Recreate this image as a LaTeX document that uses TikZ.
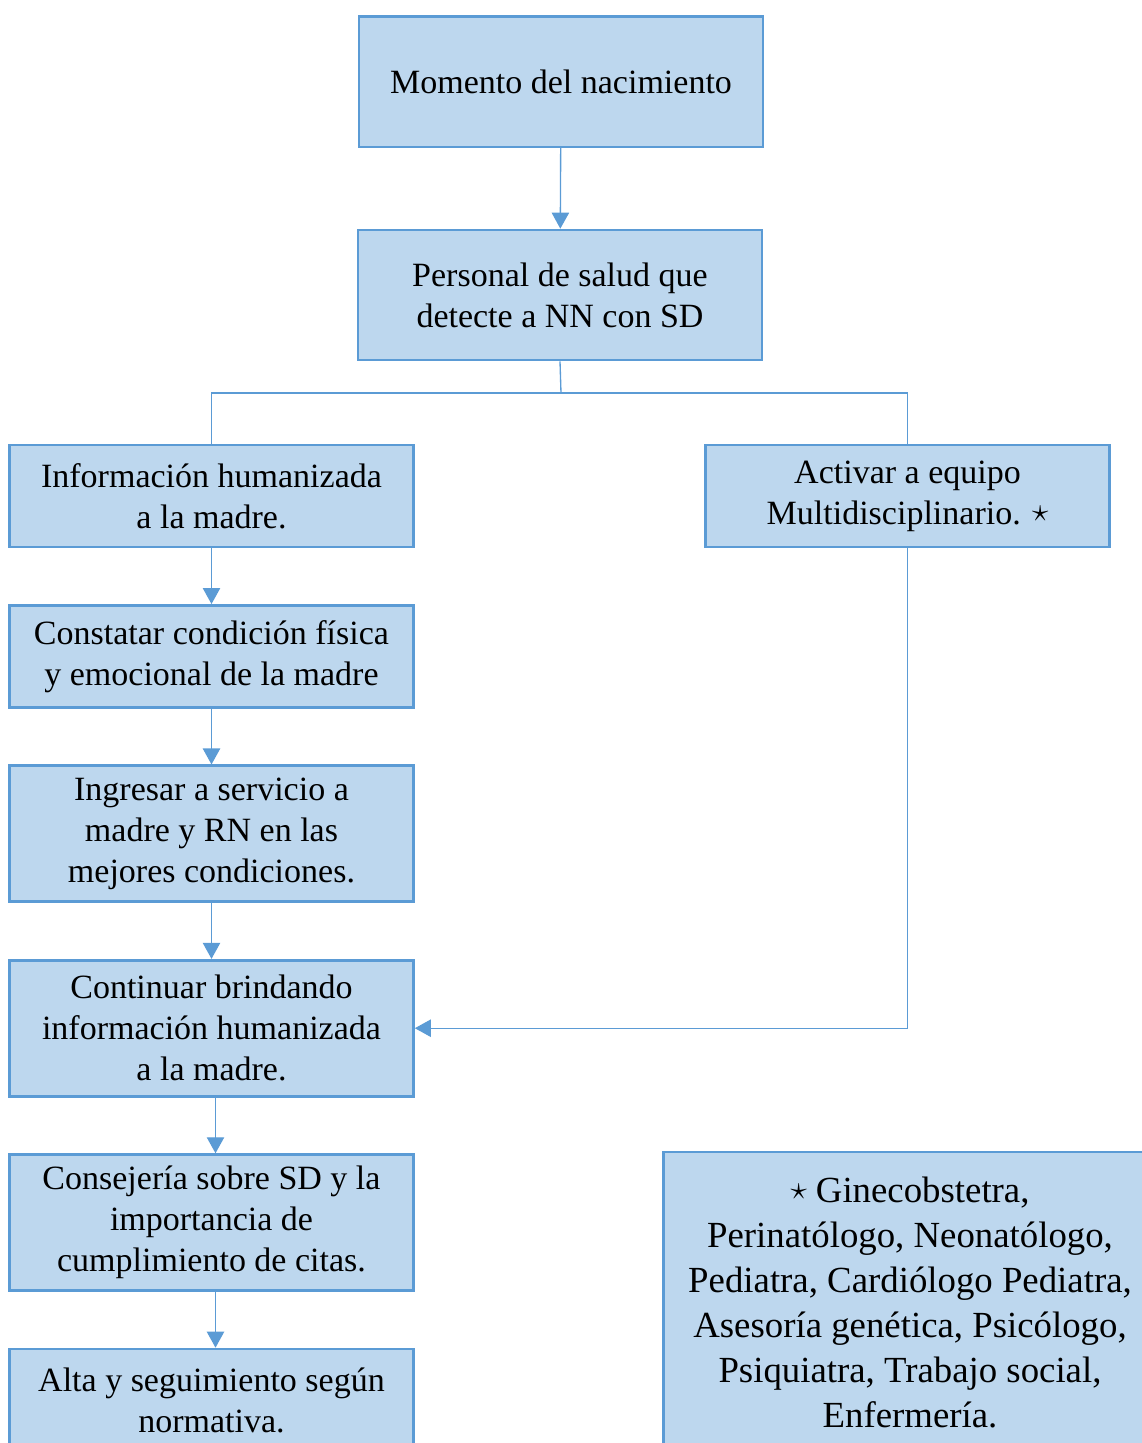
\documentclass[tikz,border=0pt]{standalone}
\usepackage{fontspec}
\setmainfont{Liberation Serif}
\usetikzlibrary{positioning}
\usetikzlibrary{arrows.meta}
\definecolor{boxfill}{RGB}{189, 215, 238}
\definecolor{boxline}{RGB}{91, 155, 213}
\tikzstyle{block} = [draw=boxline, line width=2pt, fill=boxfill, align=center, inner sep=0pt, minimum width=303pt, font=\fontsize{25.5}{30.75}\selectfont]
\tikzstyle{legend} = [draw=boxline, line width=2pt, fill=boxfill, align=center, inner sep=0pt, minimum width=370pt, minimum height=225pt, font=\fontsize{27.6}{33.75}\selectfont]
\tikzstyle{flow} = [-{Triangle[length=12pt, width=13pt]}, line width=1pt, boxline]
\tikzstyle{link} = [line width=1pt, boxline]

\begin{document}
\begin{tikzpicture}[x=0.75pt, y=-0.75pt, node distance=41.8pt]
		\useasboundingbox (0,0) rectangle (1142,1443);
		\clip (0,0) rectangle (1142,1443);
		
		%
		% Top
		\node [block, minimum height=98pt] at (561,81.5) (nacimiento) {Momento del nacimiento};
		\node [block, minimum height=97.5pt] at (560,295) (personal) {Personal de salud que\\detecte a NN con SD};
		\coordinate (split) at (561,393);
		
		\draw [flow] (nacimiento) -- (personal);
		\draw [link] (personal.south) -- (split);
		
		%
		% Left column
		\node [block, minimum height=76.5pt] at (211.5,496) (info) {Información humanizada\\a la madre.};
		\node [block, minimum height=76.5pt, below=of info] (constatar) {Constatar condición física\\y emocional de la madre};
		\node [block, minimum height=102pt, below=of constatar] (ingresar) {Ingresar a servicio a\\madre y RN en las\\mejores condiciones.};
		\node [block, minimum height=102pt, below=of ingresar] (continuar) {Continuar brindando\\información humanizada\\a la madre.};
		\node [block, minimum height=102pt, below=of continuar] (consejeria) {Consejería sobre SD y la\\importancia de\\cumplimiento de citas.};
		\node [block, minimum height=76.5pt, below=of consejeria] (alta) {Alta y seguimiento según\\normativa.};
		
		\draw [link] (info.north) |- (split);
		\draw [flow] (info) -- (constatar);
		\draw [flow] (constatar) -- (ingresar);
		\draw [flow] (ingresar) -- (continuar);
		\draw [flow] ([xshift=3pt]continuar.south) -- ([xshift=3pt]consejeria.north);
		\draw [flow] ([xshift=3pt]consejeria.south) -- ([xshift=3pt]alta.north);
		
		%
		% Right column
		\node [block, minimum height=76.5pt] at (907.5,496) (activar) {Activar a equipo\\Multidisciplinario. \raisebox{2pt}{$\star$}};
		
		\draw [link] (split) -| (activar.north);
		\draw [flow] (activar.south) |- (continuar.east);
		
		%
		% Legend
		\node [legend] at (910,1302) (equipo) {\raisebox{2pt}{$\star$} Ginecobstetra,\\Perinatólogo, Neonatólogo,\\Pediatra, Cardiólogo Pediatra,\\Asesoría genética, Psicólogo,\\Psiquiatra, Trabajo social,\\Enfermería.};
	
	\end{tikzpicture}
\end{document}
